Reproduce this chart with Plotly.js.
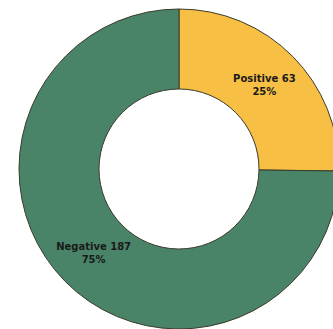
<!DOCTYPE html>
<html>
<head>
<meta charset="utf-8">
<script src="https://cdn.plot.ly/plotly-3.0.1.min.js"></script>
<style>
html,body{margin:0;padding:0;overflow:hidden;background:#fff;width:333px;height:329px;}
#chart{width:360px;height:329px;}
</style>
</head>
<body>
<div id="chart"></div>
<script>
const categories = ["Positive", "Negative"];
const counts = [63, 187];
const sliceColors = ["#F8BF45", "#4A8468"];

Plotly.newPlot("chart", [{
  type: "pie",
  labels: categories,
  values: counts,
  hole: 0.5,
  sort: false,
  direction: "clockwise",
  rotation: 0,
  marker: {colors: sliceColors, line: {color: "#3a3a2a", width: 1}},
  textposition: "inside",
  insidetextorientation: "horizontal",
  texttemplate: "<b>%{label} %{value}<br>%{percent:.0%}</b>",
  textfont: {family: "DejaVu Sans, sans-serif", size: 10, color: "#1a1a1a"},
  hoverinfo: "none",
  showlegend: false
}], {
  width: 360,
  height: 329,
  margin: {l: 19, r: 21, t: 9, b: 0},
  paper_bgcolor: "#fff",
  showlegend: false
}, {displayModeBar: false, staticPlot: true});
</script>
</body>
</html>
